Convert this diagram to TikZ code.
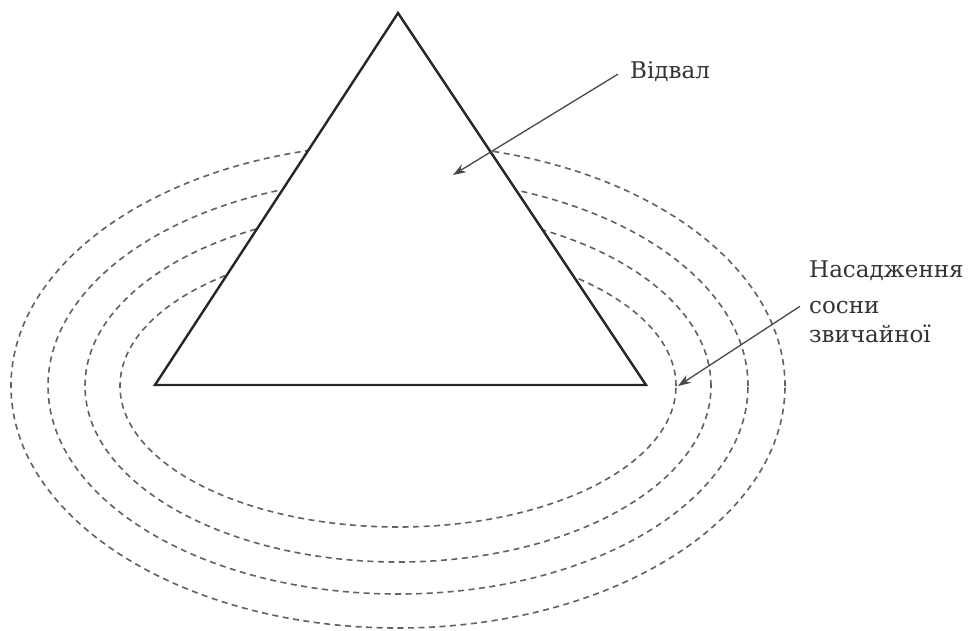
\documentclass[tikz,border=0pt]{standalone}
\usepackage{fontspec}
\setmainfont{DejaVu Serif}
\usetikzlibrary{arrows.meta}
\begin{document}
\begin{tikzpicture}[x=1pt,y=-1pt,
 ring/.style={draw=black!62, line width=1.6pt, dash pattern=on 6pt off 4.5pt},
 tri/.style={draw=black!85, line width=2.4pt, fill=white, line join=miter},
 arr/.style={draw=black!72, line width=1.3pt, -{Stealth[length=13pt,width=9pt]}},
 lbl/.style={font=\fontsize{23}{32}\selectfont, text=black!80, inner sep=0pt, align=left}]
\useasboundingbox (0,0) rectangle (973,630);
\foreach \a/\b in {387/242,350/208,313/176,278/141}
  \draw[ring] (398,386) ellipse [x radius=\a pt, y radius=\b pt];
\draw[tri] (398,13) -- (155,385) -- (646,385) -- cycle;
\node[lbl, anchor=base west] (lbl1) at (630,78) {Відвал};
\node[lbl, anchor=base west] (lbl2) at (809,342) {Насадження\\[4pt]сосни\\[-3pt]звичайної};
\coordinate (tip1) at (453,175);
\coordinate (tip2) at (678,386);
\draw[arr] ([xshift=-12pt,yshift=-3pt]lbl1.west) -- (tip1);
\draw[arr] ([xshift=-9pt,yshift=-5pt]lbl2.west) -- (tip2);
\end{tikzpicture}
\end{document}
